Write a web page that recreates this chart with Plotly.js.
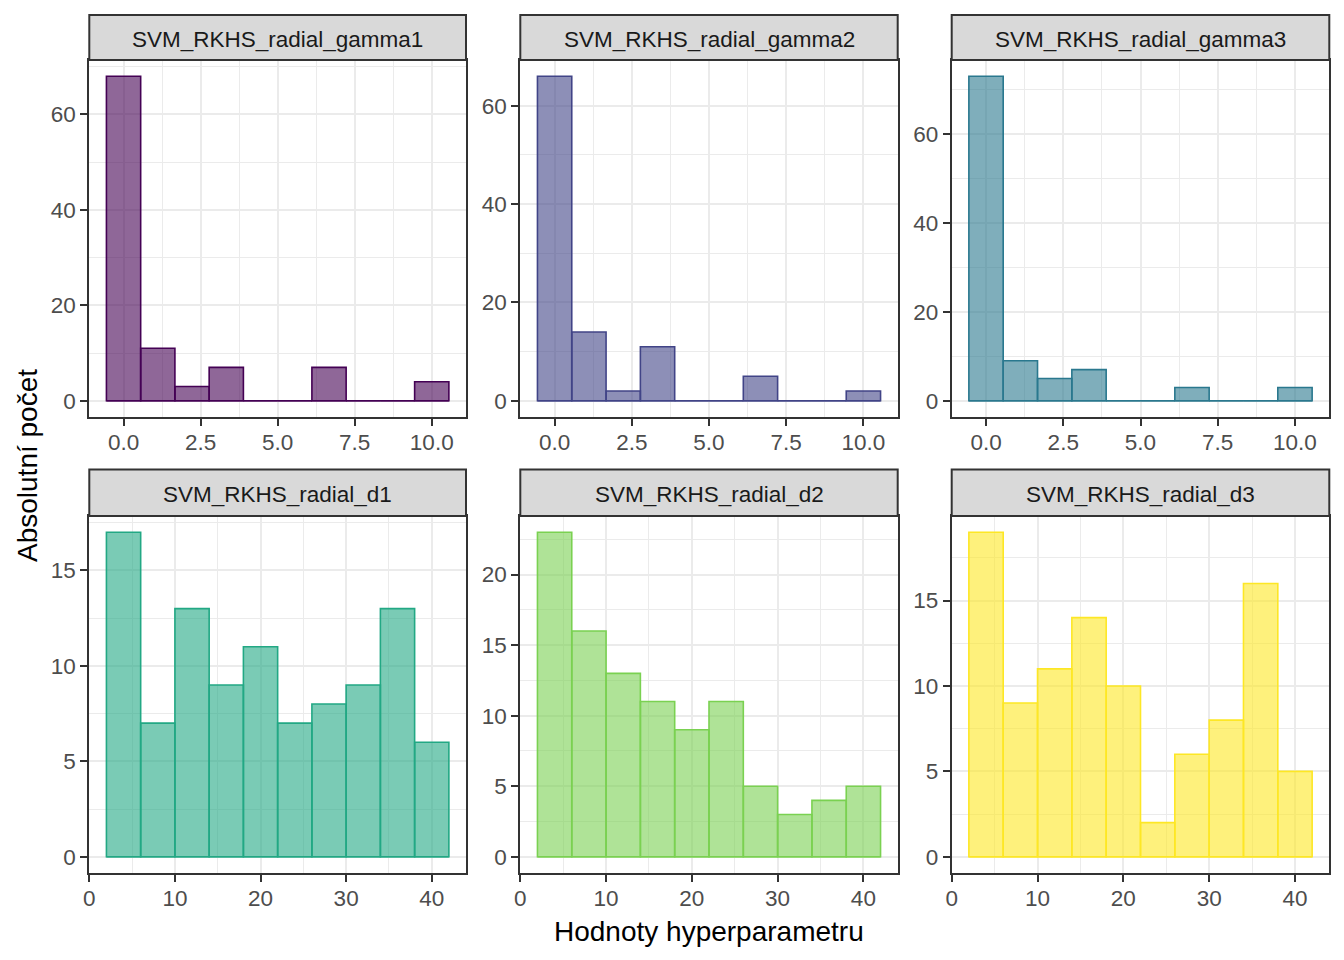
<!DOCTYPE html>
<html><head><meta charset="utf-8">
<script src="https://cdn.plot.ly/plotly-3.0.1.min.js"></script>
<style>html,body{margin:0;padding:0;background:#fff}#chart{width:1344px;height:960px}</style>
</head><body><div id="chart"></div>
<script>
// ---- data ----
const panelNames = ['SVM_RKHS_radial_gamma1','SVM_RKHS_radial_gamma2','SVM_RKHS_radial_gamma3',
                    'SVM_RKHS_radial_d1','SVM_RKHS_radial_d2','SVM_RKHS_radial_d3'];
const gammaBinCenters = [0, 1.1111, 2.2222, 3.3333, 4.4444, 5.5556, 6.6667, 7.7778, 8.8889, 10];
const gammaBinWidth = 1.1111;
const dBinCenters = [4, 8, 12, 16, 20, 24, 28, 32, 36, 40];
const dBinWidth = 4;
const gamma1Counts = [68, 11, 3, 7, 0, 0, 7, 0, 0, 4];
const gamma2Counts = [66, 14, 2, 11, 0, 0, 5, 0, 0, 2];
const gamma3Counts = [73, 9, 5, 7, 0, 0, 3, 0, 0, 3];
const d1Counts = [17, 7, 13, 9, 11, 7, 8, 9, 13, 6];
const d2Counts = [23, 16, 13, 11, 9, 11, 5, 3, 4, 5];
const d3Counts = [19, 9, 11, 14, 10, 2, 6, 8, 16, 5];
const gammaTicks = [0, 2.5, 5, 7.5, 10];
const gammaTickLabels = ['0.0', '2.5', '5.0', '7.5', '10.0'];
const dTicks = [0, 10, 20, 30, 40];
const panelColors = ['#440154', '#414487', '#2A788E', '#22A884', '#7AD151', '#FDE725'];
const yTitle = 'Absolutní počet';
const xTitle = 'Hodnoty hyperparametru';

// ---- layout helpers ----
const W = 1344, H = 960;
const colPx = [[89.3, 466], [520.3, 897.7], [951.7, 1329.3]];
const rowPx = [[60, 417], [516, 873]];
const stripPx = [[15, 60], [469.5, 516]];
const fx = p => p / W, fy = p => 1 - p / H;

const panels = [
  {counts: gamma1Counts, bins: gammaBinCenters, bw: gammaBinWidth, gamma: true},
  {counts: gamma2Counts, bins: gammaBinCenters, bw: gammaBinWidth, gamma: true},
  {counts: gamma3Counts, bins: gammaBinCenters, bw: gammaBinWidth, gamma: true},
  {counts: d1Counts, bins: dBinCenters, bw: dBinWidth, gamma: false},
  {counts: d2Counts, bins: dBinCenters, bw: dBinWidth, gamma: false},
  {counts: d3Counts, bins: dBinCenters, bw: dBinWidth, gamma: false}
];

function hexToRgba(hex, a) {
  const r = parseInt(hex.slice(1, 3), 16), g = parseInt(hex.slice(3, 5), 16), b = parseInt(hex.slice(5, 7), 16);
  return `rgba(${r},${g},${b},${a})`;
}

const traces = [];
const layout = {
  width: W, height: H,
  margin: {l: 0, r: 0, t: 0, b: 0},
  paper_bgcolor: '#ffffff', plot_bgcolor: '#ffffff',
  showlegend: false,
  barmode: 'overlay', bargap: 0,
  font: {family: 'Liberation Sans, Arial, sans-serif'},
  shapes: [], annotations: []
};

const tickFont = {family: 'Liberation Sans, Arial, sans-serif', size: 22.5, color: '#4D4D4D'};

panels.forEach((p, i) => {
  const n = i + 1;
  const xa = 'x' + (n === 1 ? '' : n), ya = 'y' + (n === 1 ? '' : n);
  const col = colPx[i % 3], row = rowPx[Math.floor(i / 3)], strip = stripPx[Math.floor(i / 3)];
  const color = panelColors[i];
  const lo = p.bins[0] - p.bw / 2, hi = p.bins[p.bins.length - 1] + p.bw / 2;
  const span = hi - lo;
  const ymax = Math.max(...p.counts);

  // baseline outline (zero-count bins are drawn as a line in ggplot)
  traces.push({type: 'scatter', mode: 'lines', x: [lo, hi], y: [0, 0], xaxis: xa, yaxis: ya,
    line: {color: color, width: 1.6}, hoverinfo: 'skip'});
  traces.push({type: 'bar', x: p.bins, y: p.counts, width: p.bw, xaxis: xa, yaxis: ya,
    marker: {color: hexToRgba(color, 0.6), line: {color: color, width: 1.6}}});

  const axCommon = {
    showline: true, mirror: true, linecolor: '#333333', linewidth: 2,
    ticks: 'outside', ticklen: 7, tickcolor: '#333333', tickwidth: 2,
    showgrid: true, gridcolor: '#EBEBEB', gridwidth: 2,
    zeroline: false, tickfont: tickFont, fixedrange: true
  };
  layout['xaxis' + (n === 1 ? '' : n)] = Object.assign({}, axCommon, {
    domain: [fx(col[0]), fx(col[1])], anchor: ya,
    range: [lo - 0.05 * span, hi + 0.05 * span],
    tickmode: 'array',
    tickvals: p.gamma ? gammaTicks : dTicks,
    ticktext: p.gamma ? gammaTickLabels : dTicks.map(String),
    ticklabelstandoff: -3,
    minor: {showgrid: true, gridcolor: '#EBEBEB', gridwidth: 1, dtick: p.gamma ? 1.25 : 5, tick0: 0, ticks: ''}
  });
  const ydt = p.gamma ? 20 : 5;
  layout['yaxis' + (n === 1 ? '' : n)] = Object.assign({}, axCommon, {
    domain: [fy(row[1]), fy(row[0])], anchor: xa,
    range: [-0.05 * ymax, ymax * 1.05],
    tickmode: 'linear', tick0: 0, dtick: ydt,
    minor: {showgrid: true, gridcolor: '#EBEBEB', gridwidth: 1, dtick: ydt / 2, tick0: 0, ticks: ''}
  });

  // strip
  layout.shapes.push({type: 'rect', xref: 'paper', yref: 'paper',
    x0: fx(col[0]), x1: fx(col[1]), y0: fy(strip[1]), y1: fy(strip[0]),
    fillcolor: '#D9D9D9', line: {color: '#333333', width: 2}, layer: 'above'});
  layout.annotations.push({xref: 'paper', yref: 'paper', x: fx((col[0] + col[1]) / 2), y: fy((strip[0] + strip[1]) / 2 + 2),
    text: panelNames[i], showarrow: false, xanchor: 'center', yanchor: 'middle',
    font: {family: 'Liberation Sans, Arial, sans-serif', size: 22.5, color: '#1A1A1A'}});
});

layout.annotations.push({xref: 'paper', yref: 'paper', x: fx(709), y: fy(931), text: xTitle, showarrow: false,
  xanchor: 'center', yanchor: 'middle', font: {family: 'Liberation Sans, Arial, sans-serif', size: 28, color: '#000000'}});
layout.annotations.push({xref: 'paper', yref: 'paper', x: fx(28), y: fy(466), text: yTitle, showarrow: false, textangle: -90,
  xanchor: 'center', yanchor: 'middle', font: {family: 'Liberation Sans, Arial, sans-serif', size: 28, color: '#000000'}});

Plotly.newPlot('chart', traces, layout, {displayModeBar: false, staticPlot: true});
</script>
</body></html>
